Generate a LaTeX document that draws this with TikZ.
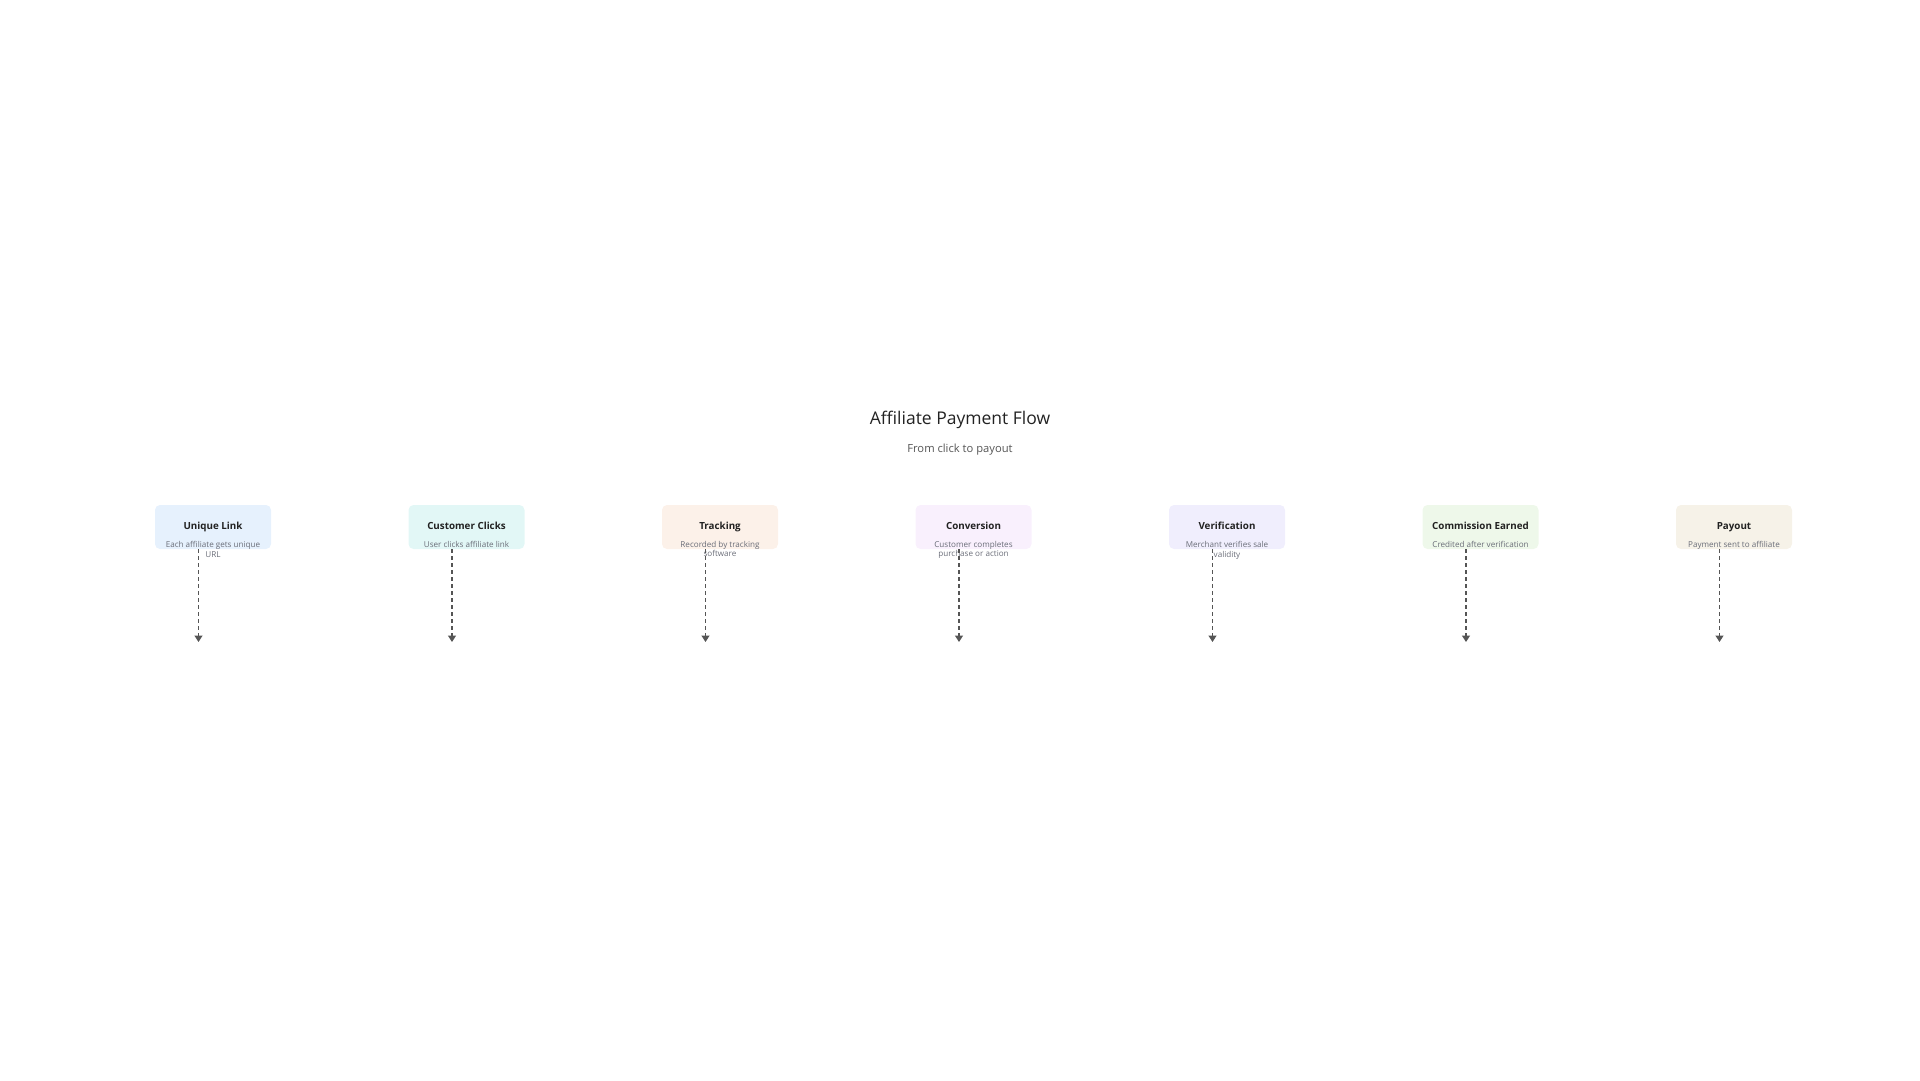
\documentclass[tikz,border=0pt]{standalone}
\usepackage{fontspec}
\setmainfont{Open Sans}
\usepackage{tikz}
\usetikzlibrary{positioning,arrows.meta,calc}
\definecolor{linkblue}{HTML}{E6F1FD}
\definecolor{clickteal}{HTML}{E2F7F6}
\definecolor{trackpeach}{HTML}{FCF1E9}
\definecolor{convpink}{HTML}{F9F0FD}
\definecolor{verililac}{HTML}{F0EEFD}
\definecolor{commgreen}{HTML}{EEF8EA}
\definecolor{paybeige}{HTML}{F6F2E8}
\definecolor{headgray}{HTML}{222222}
\definecolor{subgray}{HTML}{555555}
\definecolor{descgray}{HTML}{6A6D78}
\definecolor{arrowgray}{HTML}{555555}
\tikzstyle{flowbox}=[draw=none, rounded corners=5pt, inner sep=0pt,
    minimum width=116pt, minimum height=44pt]
\tikzstyle{boxtitle}=[inner sep=0pt, anchor=base, text=headgray, font=\bfseries\fontsize{9.8}{11}\selectfont]
\tikzstyle{boxdesc}=[inner sep=0pt, anchor=north, text=descgray, align=center,
    font=\fontsize{8.1}{9.6}\selectfont]
\tikzstyle{drop}=[draw=arrowgray, line width=1.3pt, dash pattern=on 4pt off 3pt,
    arrows={-Triangle[width=8pt,length=6.5pt]}]

\begin{document}
\begin{tikzpicture}[x=1pt,y=-1pt]

    \def\firstx{213}
    \def\stepdist{253.5}
    \def\dropshift{14.5}

    \useasboundingbox (0,0) rectangle (1920,1080);

    % heading
    \node[text=headgray, font=\fontsize{17.5}{20}\selectfont] (title) at (960,420) {Affiliate Payment Flow};
    \node[text=subgray, font=\fontsize{11.2}{13}\selectfont] (subtitle) at (960,450) {From click to payout};

    % steps
    \foreach \name/\head/\desc/\col [count=\i] in {
        link/Unique Link/{Each affiliate gets unique\\URL}/linkblue,
        clicks/Customer Clicks/{User clicks affiliate link}/clickteal,
        track/Tracking/{Recorded by tracking\\software}/trackpeach,
        conv/Conversion/{Customer completes\\purchase or action}/convpink,
        veri/Verification/{Merchant verifies sale\\validity}/verililac,
        comm/Commission Earned/{Credited after verification}/commgreen,
        pay/Payout/{Payment sent to affiliate}/paybeige}
    {
        \pgfmathsetmacro{\x}{\firstx+(\i-1)*\stepdist}
        \node[flowbox, fill=\col] (\name) at (\x,527) {};
        \node[boxtitle] (\name-title) at (\x,529) {\head};
        \node[boxdesc] (\name-desc) at (\x,541) {\desc};
        \coordinate (\name-end) at (\x-\dropshift,642);
        \draw[drop] (\name.south -| \name-end) -- (\name-end);
    }

\end{tikzpicture}
\end{document}
